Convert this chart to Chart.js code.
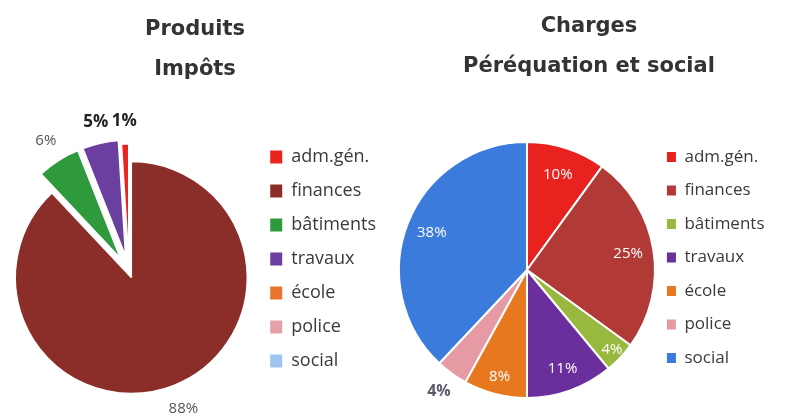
<!DOCTYPE html>
<html>
<head>
<meta charset="utf-8">
<script src="https://cdn.jsdelivr.net/npm/chart.js@4"></script>
<style>
    html, body { margin: 0; padding: 0; background: #fff; }
    .box { position: absolute; top: 0; }
    #left { left: 0; }
    #right { left: 392px; }
</style>
</head>
<body>
<div class="box" id="left"><canvas id="produitsChart" width="404" height="416"></canvas></div>
<div class="box" id="right"><canvas id="chargesChart" width="393" height="416"></canvas></div>
<script>
const categories = ["adm.gén.", "finances", "bâtiments", "travaux", "école", "police", "social"];
const produitsValues = [1, 88, 6, 5, 0, 0, 0];
const chargesValues = [10, 25, 4, 11, 8, 4, 38];
const produitsTitle = ["Produits", "Impôts"];
const chargesTitle = ["Charges", "Péréquation et social"];

const produitsColors = ["#e8241f", "#8b2e2a", "#2f9a3b", "#6b3f9f", "#e9742d", "#e4a2a8", "#9ec5ef"];
const chargesColors = ["#e8231f", "#b13a36", "#98b93e", "#6a2e9d", "#e8781f", "#e59aa4", "#3b7bdb"];

// pulls slices out of the pie without changing their radius
const explode = {
    id: "explode",
    beforeDatasetDraw(chart, args, opts) {
        const dist = opts.distances || [];
        const ctx = chart.ctx;
        args.meta.data.forEach((arc, i) => {
            const d = dist[i] || 0;
            const mid = (arc.startAngle + arc.endAngle) / 2;
            ctx.save();
            ctx.translate(Math.cos(mid) * d, Math.sin(mid) * d);
            arc.draw(ctx, chart.chartArea);
            ctx.restore();
        });
        return false;
    },
};

// percentage labels placed along each slice's middle angle
const pctLabels = {
    id: "pctLabels",
    afterDatasetsDraw(chart, args, opts) {
        const ctx = chart.ctx;
        const meta = chart.getDatasetMeta(0);
        const values = chart.data.datasets[0].data;
        const total = values.reduce((a, b) => a + b, 0);
        meta.data.forEach((arc, i) => {
            if (!values[i]) return;
            const mid = (arc.startAngle + arc.endAngle) / 2;
            const r = arc.outerRadius * opts.radius[i];
            ctx.save();
            ctx.font = (opts.bold[i] ? "bold " : "") + opts.size[i] + "px 'Open Sans'";
            ctx.fillStyle = opts.color[i];
            ctx.textAlign = "center";
            ctx.textBaseline = "middle";
            ctx.fillText(Math.round((values[i] / total) * 100) + "%", arc.x + Math.cos(mid) * r, arc.y + Math.sin(mid) * r);
            ctx.restore();
        });
    },
};

const noBoxBorder = function (chart) {
    return Chart.overrides.pie.plugins.legend.labels
        .generateLabels(chart)
        .map((l) => Object.assign(l, { lineWidth: 0 }));
};

const titleFont = { family: "'DejaVu Sans'", size: 21, weight: "bold", lineHeight: "40px" };

new Chart(document.getElementById("produitsChart"), {
    type: "pie",
    data: {
        labels: categories,
        datasets: [
            {
                data: produitsValues,
                backgroundColor: produitsColors,
                borderColor: "#ffffff",
                borderWidth: 1.5,
                radius: 116,
            },
        ],
    },
    plugins: [explode, pctLabels],
    options: {
        responsive: false,
        animation: false,
        rotation: -3.6,
        layout: { padding: { left: 4, right: 18, top: 0, bottom: 4 } },
        plugins: {
            tooltip: { enabled: false },
            title: {
                display: true,
                text: produitsTitle,
                color: "#333333",
                font: titleFont,
                padding: { top: 10, bottom: 42 },
            },
            legend: {
                position: "right",
                align: "start",
                fullSize: false,
                labels: {
                    boxWidth: 12,
                    boxHeight: 13,
                    padding: 16,
                    color: "#3a3a3a",
                    font: { family: "'Open Sans'", size: 18 },
                    generateLabels: noBoxBorder,
                },
            },
            explode: { distances: [12, 6, 16, 16, 0, 0, 0] },
            pctLabels: {
                radius: [1.3, 1.27, 1.34, 1.32, 1, 1, 1],
                size: [17, 15, 15, 17, 15, 15, 15],
                bold: [true, false, false, true, false, false, false],
                color: ["#222222", "#555555", "#555555", "#222222", "#555", "#555", "#555"],
            },
        },
    },
});

new Chart(document.getElementById("chargesChart"), {
    type: "pie",
    data: {
        labels: categories,
        datasets: [
            {
                data: chargesValues,
                backgroundColor: chargesColors,
                borderColor: "#ffffff",
                borderWidth: 2,
                radius: 128,
            },
        ],
    },
    plugins: [pctLabels],
    options: {
        responsive: false,
        animation: false,
        layout: { padding: { left: 11.5, right: 10.5, top: 0, bottom: 8 } },
        plugins: {
            tooltip: { enabled: false },
            title: {
                display: true,
                text: chargesTitle,
                color: "#333333",
                font: titleFont,
                padding: { top: 7, bottom: 45 },
            },
            legend: {
                position: "right",
                align: "start",
                fullSize: false,
                labels: {
                    boxWidth: 9,
                    boxHeight: 10,
                    padding: 16.5,
                    color: "#3a3a3a",
                    font: { family: "'Open Sans'", size: 17 },
                    generateLabels: noBoxBorder,
                },
            },
            pctLabels: {
                radius: [0.78, 0.8, 0.91, 0.82, 0.86, 1.17, 0.8],
                size: [15, 15, 15, 15, 15, 16, 15],
                bold: [false, false, false, false, false, true, false],
                color: ["#ffffff", "#ffffff", "#ffffff", "#ffffff", "#ffffff", "#5c5a6e", "#ffffff"],
            },
        },
    },
});
</script>
</body>
</html>
